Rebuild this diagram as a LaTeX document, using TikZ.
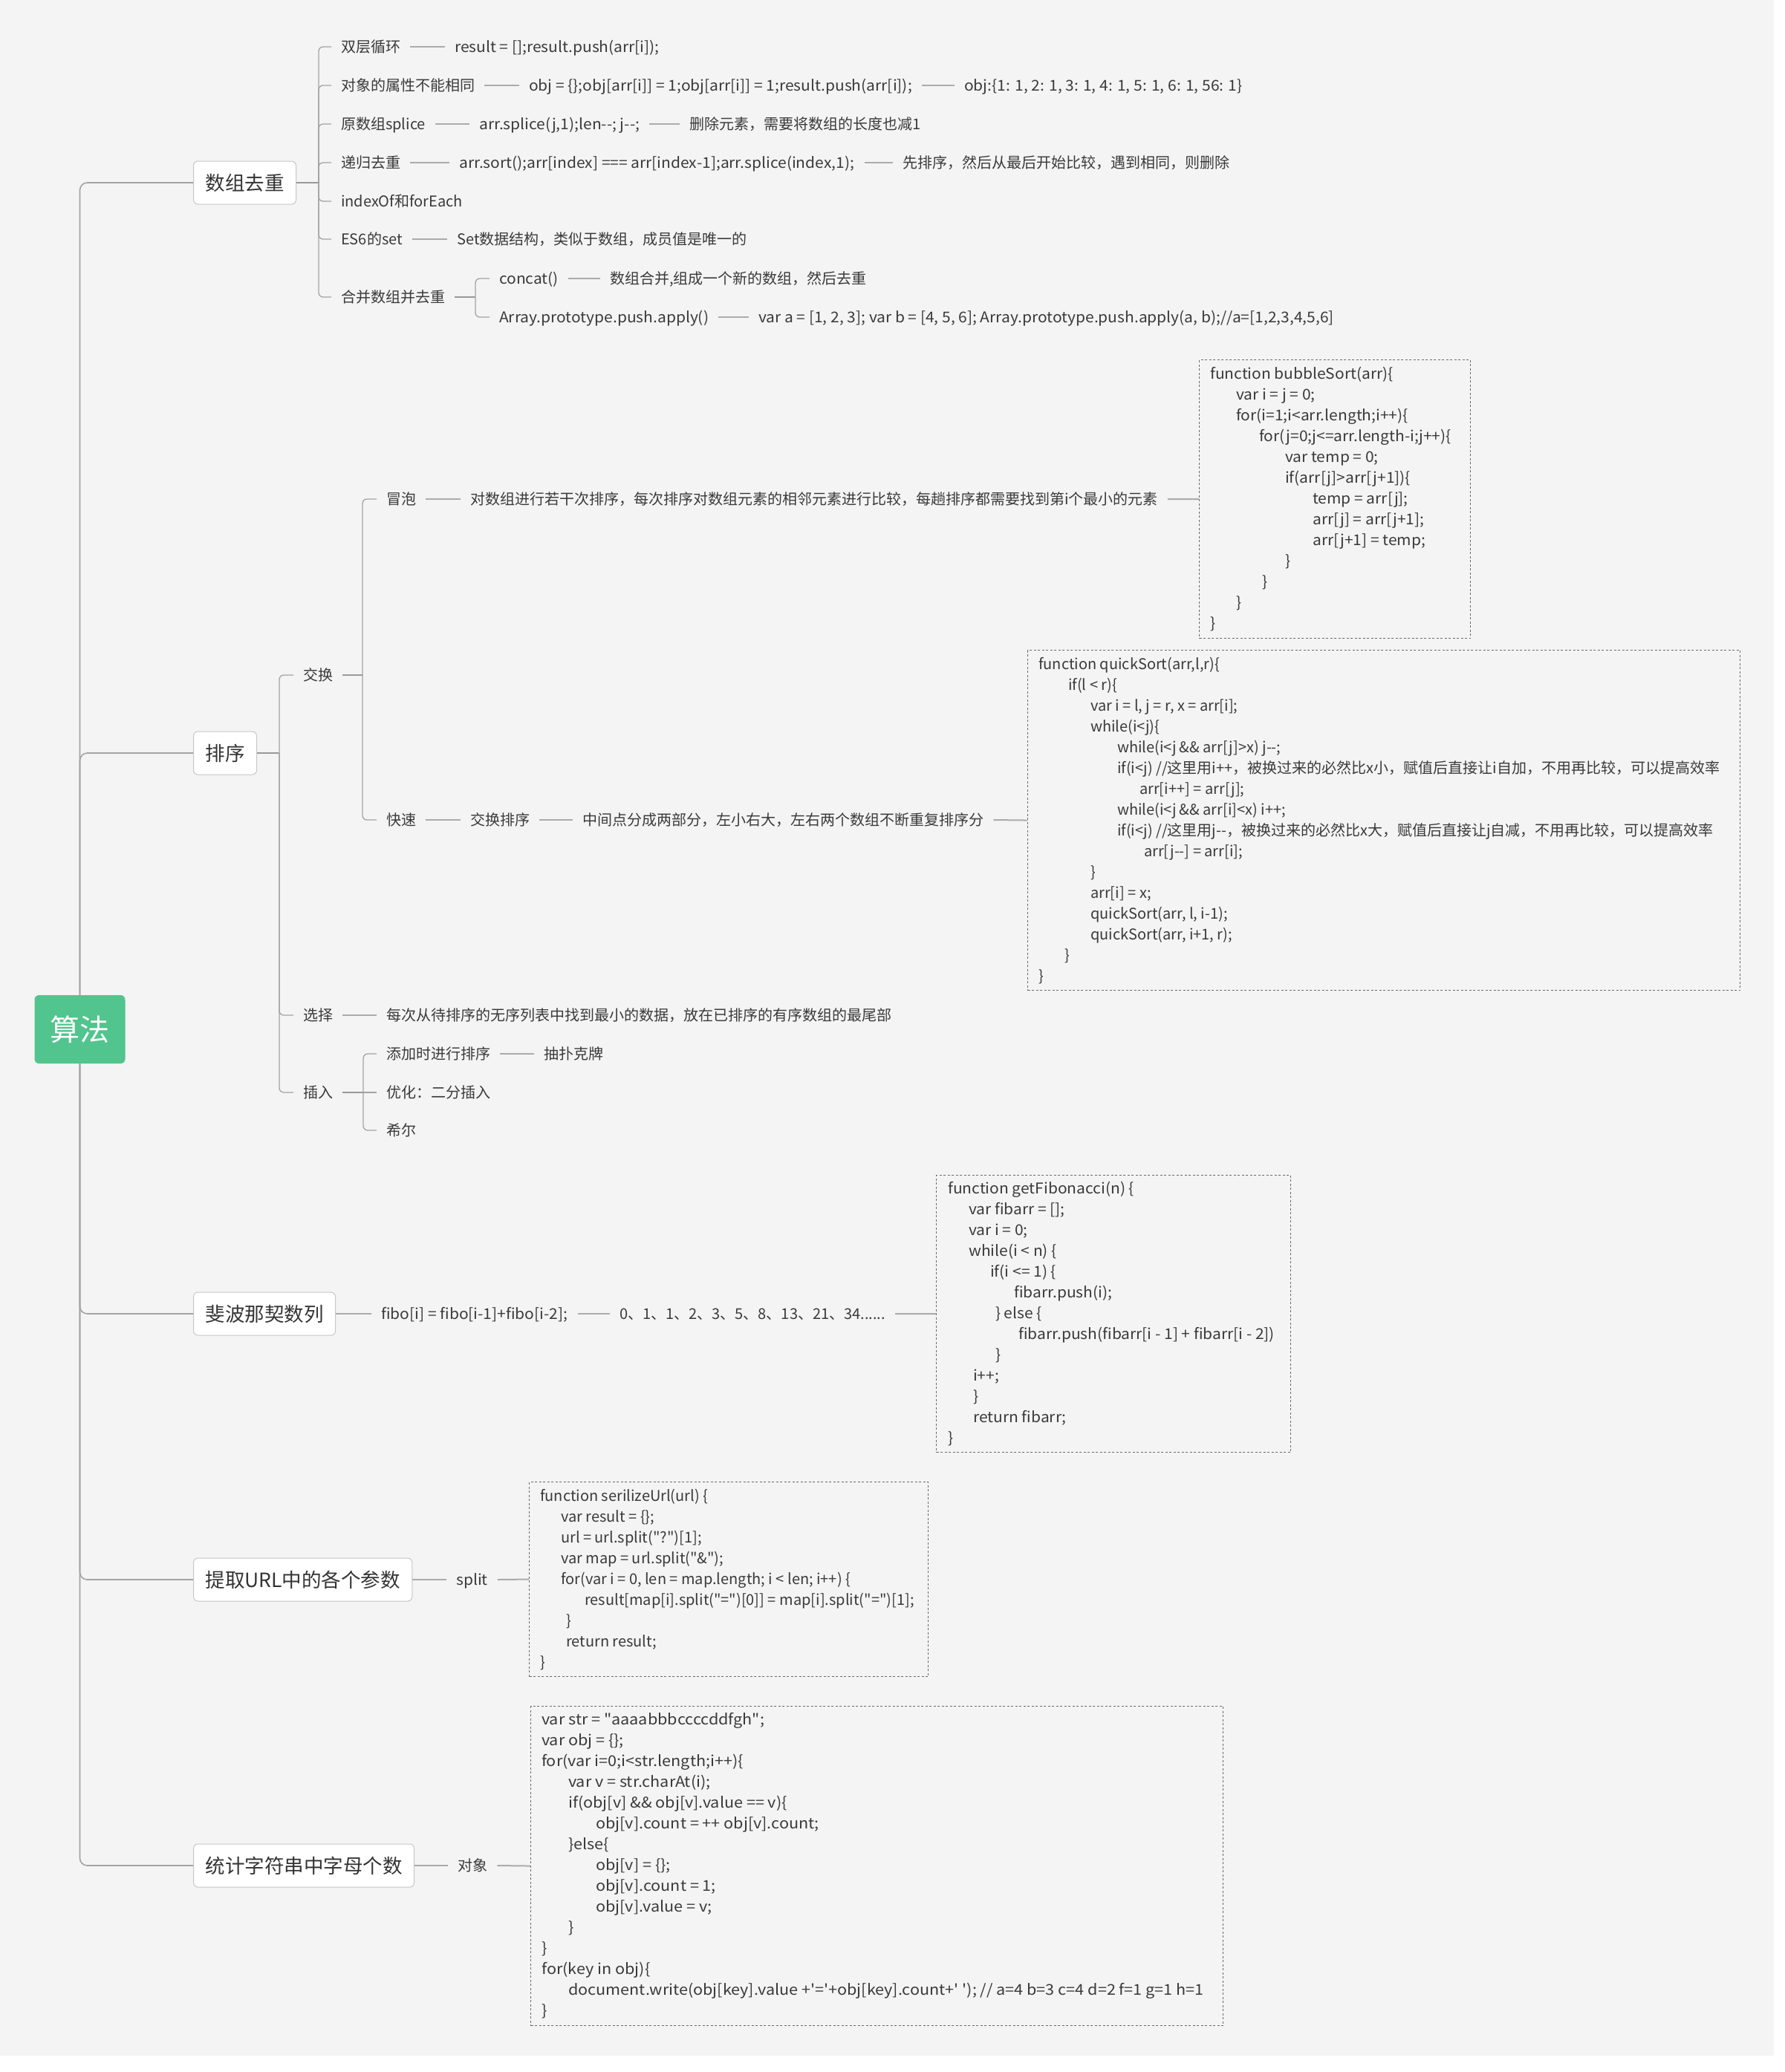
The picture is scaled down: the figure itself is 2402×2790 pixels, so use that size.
\documentclass[tikz,border=0pt]{standalone}
\usepackage{fontspec}
\newfontfamily\cnfont{Noto Sans CJK SC}[Ligatures=TeXOff]
% slightly wider cuts for runs of plain code
\newfontfamily\latf{Noto Sans CJK SC}[Ligatures=TeXOff, FakeStretch=1.05]
\newfontfamily\latwide{Noto Sans CJK SC}[Ligatures=TeXOff, FakeStretch=1.08]
\definecolor{bgcol}{HTML}{F4F4F4}
\definecolor{ink}{HTML}{3A3A3A}
\definecolor{rootgreen}{HTML}{52C48D}
\definecolor{wire}{HTML}{A3A3A3}
\definecolor{stubcol}{HTML}{999999}
\definecolor{bar}{HTML}{ABABAB}
\definecolor{frame}{HTML}{C6C6C6}
\definecolor{codedash}{HTML}{6A6A6A}
\newcommand{\cind}[1]{\hspace*{#1pt}}

\begin{document}
\begin{tikzpicture}[x=1pt,y=-1pt,
  every node/.style={font=\cnfont, text=ink},
  rootbox/.style={fill=rootgreen, rounded corners=6pt, minimum width=122pt,
    minimum height=92pt, inner sep=0pt, text=white,
    font=\cnfont\fontsize{40}{48}\selectfont},
  mainbox/.style={anchor=west, draw=frame, line width=1pt, fill=white,
    rounded corners=6pt, minimum height=58pt, inner xsep=16pt, inner ysep=0pt,
    text=ink!90!black, font=\cnfont\fontsize{26.5}{32}\selectfont},
  leaf/.style={anchor=west, inner xsep=13pt, inner ysep=0pt, text height=18pt,
    text depth=3pt, font=\cnfont\fontsize{20}{28}\selectfont},
  latin/.style={font=\latf\fontsize{20}{28}\selectfont},
  latinwide/.style={font=\latwide\fontsize{20}{28}\selectfont},
  codeframe/.style={draw=codedash, line width=1.1pt, dash pattern=on 3pt off 2.5pt,
    anchor=north west, inner sep=0pt},
  codetext/.style={anchor=west, align=left, inner sep=0pt,
    font=\cnfont\fontsize{20}{28}\selectfont},
  trunk/.style={draw=wire, line width=1.6pt, rounded corners=10pt},
  stub/.style={draw=stubcol, line width=2.3pt},
  twig/.style={draw=wire, line width=1.3pt, rounded corners=6pt},
  link/.style={draw=bar, line width=2pt},
]
% canvas
\fill[white] (0,0) rectangle (2402,2790);
\fill[bgcol] (0,0) rectangle (2388,2768);
\useasboundingbox (0,0) rectangle (2402,2790);

% ---------- root and first level ----------
\node[rootbox] (root) at (107.5,1386) {算法};
\node[mainbox] (sz)  at (260,246)  {数组去重};
\node[mainbox] (px)  at (260,1014) {排序};
\node[mainbox] (fb)  at (260,1769) {斐波那契数列};
\node[mainbox] (url) at (260,2127) {提取URL中的各个参数};
\node[mainbox] (cnt) at (260,2512) {统计字符串中字母个数};

\foreach \n in {sz,px,fb,url,cnt} \draw[trunk] (root) |- (\n.west);

% ---------- 数组去重 ----------
\node[leaf] (a1)  at (446,63)  {双层循环};
\node[leaf,latin] (a1r) at (599,63)  {result = [];result.push(arr[i]);};
\node[leaf] (a2)  at (446,115) {对象的属性不能相同};
\node[leaf,latin] (a2r) at (699,115) {obj = \{\};obj[arr[i]] = 1;obj[arr[i]] = 1;result.push(arr[i]);};
\node[leaf,latin] (a2s) at (1285,115) {obj:\{1: 1, 2: 1, 3: 1, 4: 1, 5: 1, 6: 1, 56: 1\}};
\node[leaf] (a3)  at (446,167) {原数组splice};
\node[leaf,latin] (a3r) at (632,167) {arr.splice(j,1);len--; j--;};
\node[leaf] (a3s) at (915,167) {删除元素，需要将数组的长度也减1};
\node[leaf] (a4)  at (446,219) {递归去重};
\node[leaf,latin] (a4r) at (605,219) {arr.sort();arr[index] === arr[index-1];arr.splice(index,1);};
\node[leaf] (a4s) at (1202,219) {先排序，然后从最后开始比较，遇到相同，则删除};
\node[leaf] (a5)  at (446,271) {indexOf和forEach};
\node[leaf] (a6)  at (446,322) {ES6的set};
\node[leaf] (a6r) at (602,322) {Set数据结构，类似于数组，成员值是唯一的};
\node[leaf] (a7)  at (446,400) {合并数组并去重};
\node[leaf,latin] (a7a) at (659,375) {concat()};
\node[leaf] (a7ar) at (808,375) {数组合并,组成一个新的数组，然后去重};
\node[leaf,latin] (a7b) at (659,427) {Array.prototype.push.apply()};
\node[leaf,latin] (a7br) at (1008,427) {var a = [1, 2, 3]; var b = [4, 5, 6]; Array.prototype.push.apply(a, b);//a=[1,2,3,4,5,6]};

\coordinate (szv) at (429,246);
\draw[stub] (sz.east) -- (szv);
\foreach \c in {a1,a2,a3,a4,a5,a6,a7} \draw[twig] (szv) |- (\c.west);
\coordinate (a7v) at (640,400);
\draw[stub] (a7.east) -- (a7v);
\foreach \c in {a7a,a7b} \draw[twig] (a7v) |- (\c.west);

\draw[link] (a1.east) -- (a1r.west);
\draw[link] (a2.east) -- (a2r.west);
\draw[link] (a2r.east) -- (a2s.west);
\draw[link] (a3.east) -- (a3r.west);
\draw[link] (a3r.east) -- (a3s.west);
\draw[link] (a4.east) -- (a4r.west);
\draw[link] (a4r.east) -- (a4s.west);
\draw[link] (a6.east) -- (a6r.west);
\draw[link] (a7a.east) -- (a7ar.west);
\draw[link] (a7b.east) -- (a7br.west);

% ---------- 排序 ----------
\node[leaf] (b1)  at (395,909)  {交换};
\node[leaf] (b1a) at (507,672)  {冒泡};
\node[leaf] (b1ar) at (620,672) {对数组进行若干次排序，每次排序对数组元素的相邻元素进行比较，每趟排序都需要找到第i个最小的元素};
\node[leaf] (b1b) at (507,1104) {快速};
\node[leaf] (b1br) at (620,1104) {交换排序};
\node[leaf] (b1bs) at (771,1104) {中间点分成两部分，左小右大，左右两个数组不断重复排序分};
\node[leaf] (b2)  at (395,1367) {选择};
\node[leaf] (b2r) at (507,1367) {每次从待排序的无序列表中找到最小的数据，放在已排序的有序数组的最尾部};
\node[leaf] (b3)  at (395,1471) {插入};
\node[leaf] (b3a) at (507,1419) {添加时进行排序};
\node[leaf] (b3ar) at (719,1419) {抽扑克牌};
\node[leaf] (b3b) at (507,1471) {优化：二分插入};
\node[leaf] (b3c) at (507,1522) {希尔};

\coordinate (pxv) at (376,1014);
\draw[stub] (px.east) -- (pxv);
\foreach \c in {b1,b2,b3} \draw[twig] (pxv) |- (\c.west);
\coordinate (b1v) at (488,909);
\draw[stub] (b1.east) -- (b1v);
\foreach \c in {b1a,b1b} \draw[twig] (b1v) |- (\c.west);
\coordinate (b3v) at (489,1471);
\draw[stub] (b3.east) -- (b3v);
\foreach \c in {b3a,b3c} \draw[twig] (b3v) |- (\c.west);
\draw[twig] (b3v) -- (b3b.west);

% bubble sort listing
\node[codeframe, minimum width=365pt, minimum height=375pt] (bubblebox) at (1614,484) {};
\node[codetext, latin] (bubblecode) at ([xshift=15pt]bubblebox.west) {%
function bubbleSort(arr)\{\\
\cind{35}var i = j = 0;\\
\cind{35}for(i=1;i<arr.length;i++)\{\\
\cind{66}for(j=0;j<=arr.length-i;j++)\{\\
\cind{101}var temp = 0;\\
\cind{101}if(arr[j]>arr[j+1])\{\\
\cind{138}temp = arr[j];\\
\cind{138}arr[j] = arr[j+1];\\
\cind{138}arr[j+1] = temp;\\
\cind{101}\}\\
\cind{70}\}\\
\cind{35}\}\\
\}};

% quick sort listing
\node[codeframe, minimum width=959pt, minimum height=458pt] (quickbox) at (1383,875) {};
\node[codetext] (quickcode) at ([xshift=15pt]quickbox.west) {%
function quickSort(arr,l,r)\{\\
\cind{40}if(l < r)\{\\
\cind{70}var i = l, j = r, x = arr[i];\\
\cind{70}while(i<j)\{\\
\cind{106}while(i<j \&\& arr[j]>x) j--;\\
\cind{106}if(i<j) //这里用i++，被换过来的必然比x小，赋值后直接让i自加，不用再比较，可以提高效率\\
\cind{136}arr[i++] = arr[j];\\
\cind{106}while(i<j \&\& arr[i]<x) i++;\\
\cind{106}if(i<j) //这里用j--，被换过来的必然比x大，赋值后直接让j自减，不用再比较，可以提高效率\\
\cind{142}arr[j--] = arr[i];\\
\cind{70}\}\\
\cind{70}arr[i] = x;\\
\cind{70}quickSort(arr, l, i-1);\\
\cind{70}quickSort(arr, i+1, r);\\
\cind{35}\}\\
\}};

\draw[link] (b1a.east) -- (b1ar.west);
\draw[link] (b1ar.east) -- (bubblebox.west);
\draw[link] (b1b.east) -- (b1br.west);
\draw[link] (b1br.east) -- (b1bs.west);
\draw[link] (b1bs.east) -- (quickbox.west);
\draw[link] (b2.east) -- (b2r.west);
\draw[link] (b3a.east) -- (b3ar.west);

% ---------- 斐波那契数列 ----------
\node[leaf,latin] (c1) at (500,1769) {fibo[i] = fibo[i-1]+fibo[i-2];};
\node[leaf] (c2) at (821,1769) {0、1、1、2、3、5、8、13、21、34......};
\node[codeframe, minimum width=477pt, minimum height=373pt] (fibbox) at (1260,1582) {};
\node[codetext, latin] (fibcode) at ([xshift=16pt]fibbox.west) {%
function getFibonacci(n) \{\\
\cind{28}var fibarr = [];\\
\cind{28}var i = 0;\\
\cind{28}while(i < n) \{\\
\cind{57}if(i <= 1) \{\\
\cind{89}fibarr.push(i);\\
\cind{64}\} else \{\\
\cind{95}fibarr.push(fibarr[i - 1] + fibarr[i - 2])\\
\cind{64}\}\\
\cind{34}i++;\\
\cind{34}\}\\
\cind{34}return fibarr;\\
\}};
\draw[link] (fb.east) -- (c1.west);
\draw[link] (c1.east) -- (c2.west);
\draw[link] (c2.east) -- (fibbox.west);

% ---------- 提取URL中的各个参数 ----------
\node[leaf,latin] (d1) at (601,2127) {split};
\node[codeframe, minimum width=537pt, minimum height=262pt] (urlbox) at (712,1995) {};
\node[codetext] (urlcode) at ([xshift=15pt]urlbox.west) {%
function serilizeUrl(url) \{\\
\cind{28}var result = \{\};\\
\cind{28}url = url.split("?")[1];\\
\cind{28}var map = url.split("\&");\\
\cind{28}for(var i = 0, len = map.length; i < len; i++) \{\\
\cind{60}result[map[i].split("=")[0]] = map[i].split("=")[1];\\
\cind{35}\}\\
\cind{35}return result;\\
\}};
\draw[link] (url.east) -- (d1.west);
\draw[link] (d1.east) -- (urlbox.west);

% ---------- 统计字符串中字母个数 ----------
\node[leaf] (e1) at (603,2512) {对象};
\node[codeframe, minimum width=932pt, minimum height=430pt] (cntbox) at (714,2297) {};
\node[codetext, latinwide] (cntcode) at ([xshift=15pt]cntbox.west) {%
var str = "aaaabbbccccddfgh";\\
var obj = \{\};\\
for(var i=0;i<str.length;i++)\{\\
\cind{36}var v = str.charAt(i);\\
\cind{36}if(obj[v] \&\& obj[v].value == v)\{\\
\cind{73}obj[v].count = ++ obj[v].count;\\
\cind{36}\}else\{\\
\cind{73}obj[v] = \{\};\\
\cind{73}obj[v].count = 1;\\
\cind{73}obj[v].value = v;\\
\cind{36}\}\\
\}\\
for(key in obj)\{\\
\cind{36}document.write(obj[key].value +'='+obj[key].count+' '); // a=4 b=3 c=4 d=2 f=1 g=1 h=1\\
\}};
\draw[link] (cnt.east) -- (e1.west);
\draw[link] (e1.east) -- (cntbox.west);
\end{tikzpicture}
\end{document}
